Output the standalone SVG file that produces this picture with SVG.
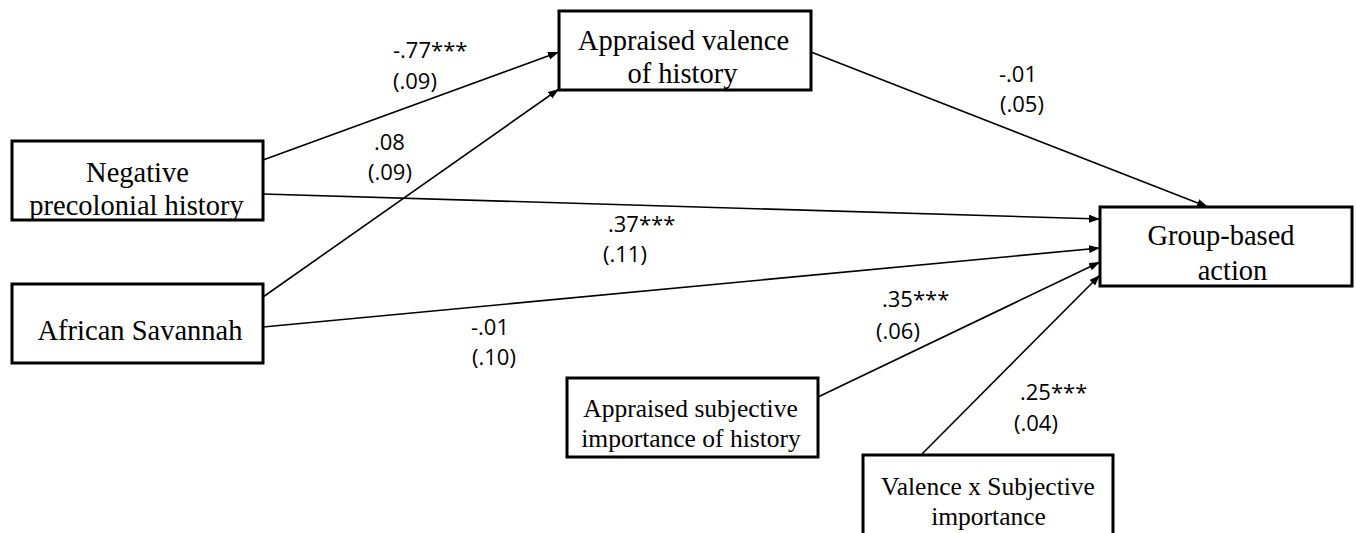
<svg xmlns="http://www.w3.org/2000/svg" width="1356" height="533" viewBox="0 0 1356 533">
<style>
.box{fill:#fff;stroke:#000;stroke-width:3}
.nt{font-family:"Liberation Serif","Times New Roman",serif;font-size:28.5px;fill:#000;text-anchor:middle}
.ns{font-family:"Liberation Serif","Times New Roman",serif;font-size:25.5px;fill:#000;text-anchor:middle}
.lb{font-family:"Open Sans","Liberation Sans",sans-serif;font-size:22px;fill:#000}
.edge{stroke:#000;stroke-width:1.6;fill:none;marker-end:url(#arr)}
</style>
<defs>
<marker id="arr" markerUnits="userSpaceOnUse" markerWidth="12" markerHeight="9" refX="11" refY="4" orient="auto">
<path d="M0,0 L11,4 L0,8 z" fill="#000"/>
</marker>
</defs>
<rect width="1356" height="533" fill="#fff"/>
<g id="connectors">
<line class="edge" x1="263" y1="160" x2="559" y2="52"/>
<line class="edge" x1="263" y1="297" x2="559" y2="89"/>
<line class="edge" x1="811" y1="52" x2="1208" y2="207"/>
<line class="edge" x1="263" y1="194" x2="1100" y2="219"/>
<line class="edge" x1="263" y1="327" x2="1100" y2="248"/>
<line class="edge" x1="818" y1="397" x2="1100" y2="262"/>
<line class="edge" x1="922" y1="454" x2="1100" y2="275"/>
</g>
<g id="labels">
<text class="lb" x="393" y="58">-.77***</text>
<text class="lb" x="393" y="89">(.09)</text>
<text class="lb" x="374" y="150">.08</text>
<text class="lb" x="368" y="180">(.09)</text>
<text class="lb" x="999" y="82">-.01</text>
<text class="lb" x="1000" y="112">(.05)</text>
<text class="lb" x="608" y="232">.37***</text>
<text class="lb" x="603" y="262">(.11)</text>
<text class="lb" x="471" y="335">-.01</text>
<text class="lb" x="472" y="365">(.10)</text>
<text class="lb" x="882" y="307">.35***</text>
<text class="lb" x="876" y="339">(.06)</text>
<text class="lb" x="1020" y="400">.25***</text>
<text class="lb" x="1014" y="431">(.04)</text>
</g>
<g id="node-negative">
<rect class="box" x="12" y="141" width="251" height="79"/>
<text class="nt" x="137.5" y="182">Negative</text>
<text class="nt" x="136.5" y="215">precolonial history</text>
</g>
<g id="node-african">
<rect class="box" x="12" y="284" width="251" height="79"/>
<text class="nt" x="140" y="340">African Savannah</text>
</g>
<g id="node-valence">
<rect class="box" x="559" y="11" width="252" height="79"/>
<text class="nt" x="683.5" y="50">Appraised valence</text>
<text class="nt" x="682.5" y="83">of history</text>
</g>
<g id="node-action">
<rect class="box" x="1100" y="207" width="252" height="79"/>
<text class="nt" x="1221" y="245">Group-based</text>
<text class="nt" x="1232.5" y="280">action</text>
</g>
<g id="node-subjective">
<rect class="box" x="567" y="378" width="251" height="79"/>
<text class="ns" x="690.5" y="417">Appraised subjective</text>
<text class="ns" x="691" y="447">importance of history</text>
</g>
<g id="node-interaction">
<rect class="box" x="863" y="455" width="250" height="90"/>
<text class="ns" x="988" y="495">Valence x Subjective</text>
<text class="ns" x="988.5" y="525">importance</text>
</g>
</svg>
